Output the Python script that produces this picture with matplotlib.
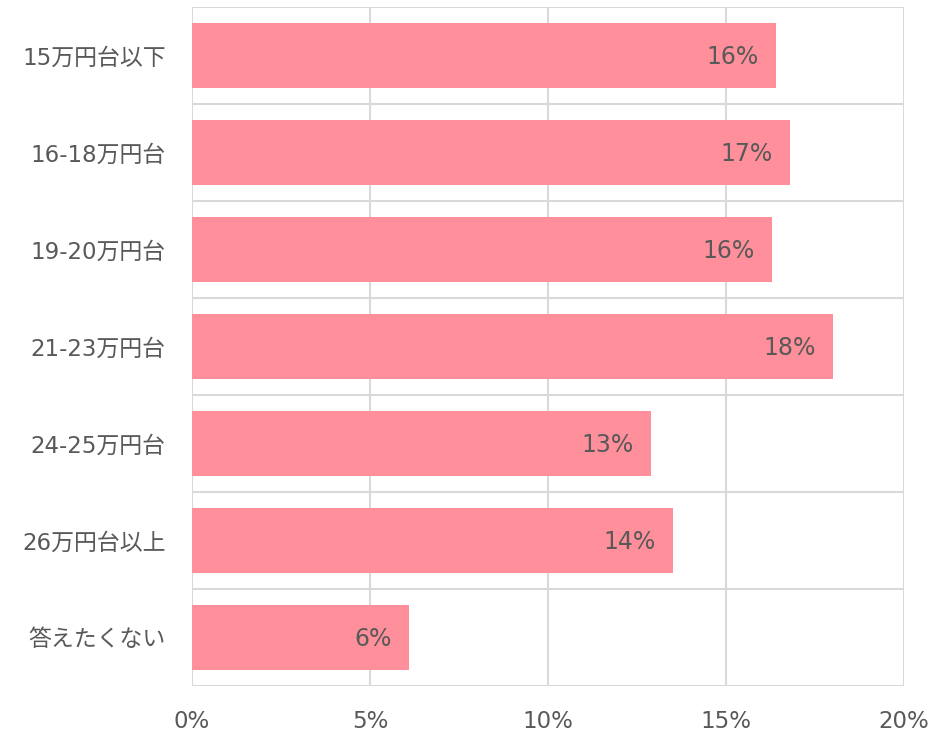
import matplotlib
matplotlib.use('Agg')
import matplotlib.pyplot as plt
import numpy as np

plt.rcParams['font.family'] = ['DejaVu Sans', 'Noto Sans CJK JP']

# ── Data ──────────────────────────────────────────────────────────────────────
categories = ['15万円台以下', '16-18万円台', '19-20万円台', '21-23万円台',
              '24-25万円台', '26万円台以上', '答えたくない']
values = [16.4, 16.8, 16.3, 18.0, 12.9, 13.5, 6.1]
labels = ['16%', '17%', '16%', '18%', '13%', '14%', '6%']
xticks = [0, 5, 10, 15, 20]

C_BAR = '#FF8F9A'
C_GRID = '#D9D9D9'
C_TEXT = '#595959'

fig = plt.figure(figsize=(9.33, 7.32), dpi=100, facecolor='white')
ax = fig.add_axes([192 / 933, 1 - 686 / 732, (904 - 192) / 933, (686 - 7) / 732])

y = np.arange(len(categories))
ax.barh(y, values, height=0.67, color=C_BAR, zorder=2)

for yi, v, lab in zip(y, values, labels):
    ax.annotate(lab, xy=(v, yi), xytext=(-12.5, -1), textcoords='offset points',
                ha='right', va='center', fontsize=17, color=C_TEXT, zorder=3)

# grid: vertical at ticks, horizontal at category boundaries
for xt in xticks:
    ax.axvline(xt, color=C_GRID, linewidth=1.5, zorder=1)
for b in np.arange(len(categories) + 1) - 0.5:
    ax.axhline(b, color=C_GRID, linewidth=1.5, zorder=1)

ax.set_xlim(0, 20)
ax.set_ylim(len(categories) - 0.5, -0.5)
ax.set_xticks(xticks)
ax.set_xticklabels([f'{t}%' for t in xticks])
ax.set_yticks(y)
ax.set_yticklabels(categories)
ax.tick_params(axis='both', length=0, labelsize=16.5, colors=C_TEXT)
ax.tick_params(axis='y', pad=19)
ax.tick_params(axis='x', pad=17)
for s in ax.spines.values():
    s.set_visible(False)

fig.savefig('out.png', dpi=100, facecolor='white')
